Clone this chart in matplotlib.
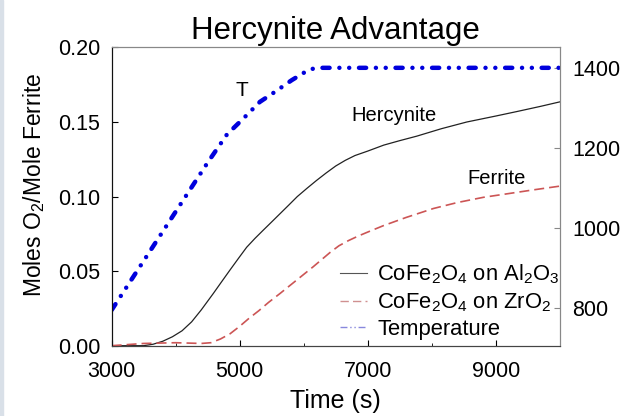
import matplotlib
matplotlib.use("Agg")
import matplotlib.pyplot as plt
from matplotlib.lines import Line2D
from matplotlib.patches import Rectangle

plt.rcParams['font.family'] = ['Liberation Sans', 'DejaVu Sans']
plt.rcParams['mathtext.fontset'] = 'custom'
plt.rcParams['mathtext.rm'] = 'Liberation Sans'
plt.rcParams['mathtext.default'] = 'regular'

# ---- data ----
temp_time = [3000, 3500, 4000, 4500, 4800, 5056, 5317, 5552, 5812, 6047, 6150, 6255, 10000]
temp_vals = [794, 917, 1040, 1163, 1233, 1273, 1315, 1340, 1369, 1392, 1398, 1400, 1400]

herc_time = [3000, 3500, 3650, 3800, 3950, 4100, 4250, 4400, 4588, 4720, 4848, 4980,
             5109, 5240, 5369, 5500, 5630, 5760, 5900, 6050, 6200, 6350, 6500, 6650,
             6800, 7000, 7250, 7500, 7765, 8150, 8547, 9000, 9328, 9700, 10000]
herc_vals = [0.0, 0.0, 0.001, 0.003, 0.006, 0.010, 0.016, 0.024, 0.035, 0.043, 0.0507,
             0.0585, 0.066, 0.072, 0.0775, 0.083, 0.0885, 0.094, 0.1, 0.1055, 0.1108,
             0.1158, 0.1205, 0.1243, 0.1275, 0.1305, 0.1345, 0.1375, 0.1405, 0.1455,
             0.150, 0.154, 0.157, 0.1605, 0.1635]

ferr_time = [3000, 3500, 4000, 4400, 4550, 4700, 4850, 5000, 5150, 5300, 5450, 5630,
             5890, 6150, 6411, 6550, 6700, 6850, 7000, 7245, 7600, 8026, 8400, 8807,
             9200, 9589, 10000]
ferr_vals = [0.0, 0.0015, 0.002, 0.0015, 0.002, 0.0045, 0.008, 0.013, 0.0185, 0.0235,
             0.029, 0.035, 0.044, 0.053, 0.0625, 0.067, 0.0705, 0.0735, 0.0762, 0.0805,
             0.086, 0.092, 0.096, 0.0995, 0.102, 0.1045, 0.107]

x_ticks = [3000, 5000, 7000, 9000]
y_ticks = [0.00, 0.05, 0.10, 0.15, 0.20]
t_ticks = [800, 1000, 1200, 1400]

legend_labels = [r"CoFe$_2$O$_4$ on Al$_2$O$_3$",
                 r"CoFe$_2$O$_4$ on ZrO$_2$",
                 "Temperature"]

# ---- figure ----
fig = plt.figure(figsize=(6.2, 4.16), dpi=100)
ax = fig.add_axes([0.180, 0.169, 0.723, 0.717])
fig.patches.append(Rectangle((0, 0), 3 / 620, 1, transform=fig.transFigure,
                             color='#d9e0e8', zorder=0))

ax2 = ax.twinx()
ax2.set_zorder(0)
ax.set_zorder(1)
ax.patch.set_visible(False)

ax2.plot(temp_time, temp_vals, color='#0000dd', lw=3.2,
         linestyle=(0, (1.6, 2.2, 0.01, 2.2, 0.01, 2.2)), dash_capstyle='round')
ax.plot(herc_time, herc_vals, color='#222222', lw=0.9)
ax.plot(ferr_time, ferr_vals, color='#cc5555', lw=1.2, linestyle=(0, (6, 3)))

ax.set_xlim(3000, 10000)
ax.set_ylim(0, 0.20)
ax2.set_ylim(705, 1451)

ax.set_xticks(x_ticks)
ax.set_xticks([4000, 6000, 8000], minor=True)
ax.set_yticks(y_ticks)
ax.set_yticklabels([f"{v:.2f}" for v in y_ticks])
ax2.set_yticks(t_ticks)

ax.tick_params(axis='both', which='major', direction='in', length=4, width=0.8,
               labelsize=15.5, pad=8)
ax.tick_params(axis='x', which='minor', direction='in', length=2.5, width=0.6)
ax.tick_params(axis='x', pad=11)
ax2.tick_params(axis='y', direction='in', length=4, width=0.8, labelsize=15.5,
                pad=9, color='#888888')

for a in (ax, ax2):
    a.spines['top'].set_color('#888888')
    a.spines['right'].set_color('#888888')
    a.spines['left'].set_color('#111111')
    a.spines['bottom'].set_color('#444444')

ax.set_xlabel("Time (s)", fontsize=18, labelpad=5)
ax.set_ylabel(r"Moles O$_2$/Mole Ferrite", fontsize=16.5)
ax.yaxis.set_label_coords(-0.143, 0.54)
ax.set_title("Hercynite Advantage", fontsize=22.5, pad=6)

ax.text(5031, 0.1714, "T", fontsize=15, ha='center', va='center')
ax.text(7411, 0.1544, "Hercynite", fontsize=14.5, ha='center', va='center')
ax.text(9016, 0.1122, "Ferrite", fontsize=14.5, ha='center', va='center')

handles = [Line2D([], [], color='#555555', lw=0.8),
           Line2D([], [], color='#d09090', lw=1.0, linestyle=(0, (6, 3))),
           Line2D([], [], color='#8888dd', lw=1.0, linestyle=(0, (5, 2, 1, 2, 1, 2)))]
ax.legend(handles, legend_labels, loc='upper left', bbox_to_anchor=(0.509, 0.278),
          frameon=False, fontsize=15.8, handlelength=1.25, handletextpad=0.45,
          labelspacing=0.22, borderpad=0, borderaxespad=0)

fig.savefig("out.png", dpi=100)
